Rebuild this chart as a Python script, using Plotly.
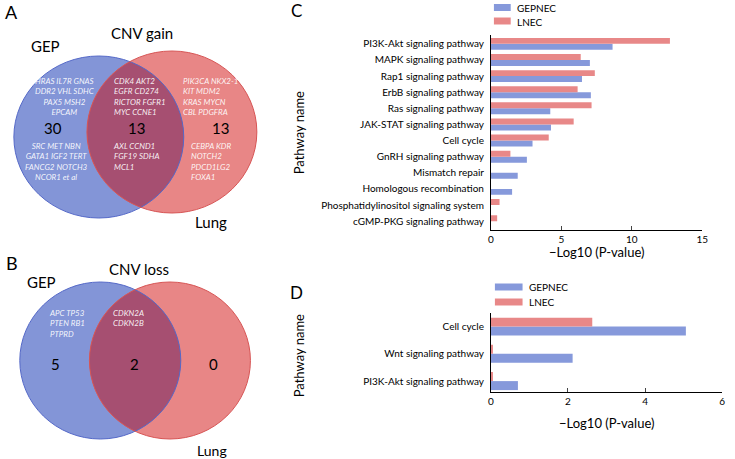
import numpy as np
import plotly.graph_objects as go

W, H = 735, 459
FONT = "Lato"

# ---------------- data ----------------
c_paths = ["PI3K-Akt signaling pathway", "MAPK signaling pathway", "Rap1 signaling pathway",
           "ErbB signaling pathway", "Ras signaling pathway", "JAK-STAT signaling pathway",
           "Cell cycle", "GnRH signaling pathway", "Mismatch repair",
           "Homologous recombination", "Phosphatidylinositol signaling system",
           "cGMP-PKG signaling pathway"]
c_gepnec = [8.63, 7.02, 6.46, 7.09, 4.21, 4.26, 2.95, 2.55, 1.90, 1.50, 0, 0]
c_lnec = [12.7, 6.37, 7.37, 6.15, 7.14, 5.87, 4.10, 1.38, 0, 0, 0.61, 0.44]

d_paths = ["Cell cycle", "Wnt signaling pathway", "PI3K-Akt signaling pathway"]
d_gepnec = [5.06, 2.12, 0.70]
d_lnec = [2.63, 0.03, 0.03]

c_ticks = [0, 5, 10, 15]
d_ticks = [0, 2, 4, 6]

gain_counts = [30, 13, 13]
loss_counts = [5, 2, 0]
gain_gep_top = ["HRAS IL7R GNAS", "DDR2 VHL SDHC", "PAX5 MSH2", "EPCAM"]
gain_gep_bot = ["SRC MET NBN", "GATA1 IGF2 TERT", "FANCG2 NOTCH3", "NCOR1 et al"]
gain_mid_top = ["CDK4 AKT2", "EGFR CD274", "RICTOR FGFR1", "MYC CCNE1"]
gain_mid_bot = ["AXL CCND1", "FGF19 SDHA", "MCL1"]
gain_lung_top = ["PIK3CA NKX2-1", "KIT MDM2", "KRAS MYCN", "CBL PDGFRA"]
gain_lung_bot = ["CEBPA KDR", "NOTCH2", "PDCD1LG2", "FOXA1"]
loss_gep = ["APC TP53", "PTEN RB1", "PTPRD"]
loss_mid = ["CDKN2A", "CDKN2B"]

BLUE = "rgb(131,149,215)"
RED = "rgb(232,134,134)"
LENS = "rgb(166,79,113)"
BAR_BLUE = "rgb(134,153,219)"
BAR_RED = "rgb(232,136,136)"


def px(x):
    return x / W


def py(y):
    return 1 - y / H


shapes = []
annotations = []


def ann(x, y, text, size, color="black", xanchor="center", italic=False, angle=0, align="center"):
    annotations.append(dict(
        x=px(x), y=py(y), xref="paper", yref="paper", text=text, showarrow=False,
        xanchor=xanchor, yanchor="middle", textangle=angle, align=align, borderpad=0,
        font=dict(family=FONT, size=size, color=color, style="italic" if italic else "normal")))


def ellipse_pts(cx, cy, rx, ry, t):
    return cx + rx * np.cos(t), cy + ry * np.sin(t)


def venn(bc, rc, rx, ry):
    (bx, by), (rxc, ryc) = bc, rc
    shapes.append(dict(type="circle", xref="paper", yref="paper", x0=px(bx - rx), x1=px(bx + rx),
                       y0=py(by + ry), y1=py(by - ry), fillcolor=BLUE, line=dict(width=0), layer="below"))
    shapes.append(dict(type="circle", xref="paper", yref="paper", x0=px(rxc - rx), x1=px(rxc + rx),
                       y0=py(ryc + ry), y1=py(ryc - ry), fillcolor=RED, line=dict(width=0), layer="below"))
    t = np.linspace(-np.pi, np.pi, 721)
    x1, y1 = ellipse_pts(bx, by, rx, ry, t)
    inside_r = ((x1 - rxc) / rx) ** 2 + ((y1 - ryc) / ry) ** 2 <= 1
    t2 = np.linspace(0, 2 * np.pi, 721)
    x2, y2 = ellipse_pts(rxc, ryc, rx, ry, t2)
    inside_b = ((x2 - bx) / rx) ** 2 + ((y2 - by) / ry) ** 2 <= 1
    xs = np.concatenate([x1[inside_r], x2[inside_b]])
    ys = np.concatenate([y1[inside_r], y2[inside_b]])
    path = "M" + " L".join(f"{px(a):.5f},{py(b):.5f}" for a, b in zip(xs, ys)) + " Z"
    shapes.append(dict(type="path", xref="paper", yref="paper", path=path, fillcolor=LENS,
                       line=dict(width=0), layer="below"))
    shapes.append(dict(type="circle", xref="paper", yref="paper", x0=px(bx - rx), x1=px(bx + rx),
                       y0=py(by + ry), y1=py(by - ry), line=dict(color="rgb(85,105,200)", width=1), layer="below"))
    shapes.append(dict(type="circle", xref="paper", yref="paper", x0=px(rxc - rx), x1=px(rxc + rx),
                       y0=py(ryc + ry), y1=py(ryc - ry), line=dict(color="rgb(215,85,85)", width=1), layer="below"))


GENE_SIZE = 8
LINE_H = GENE_SIZE * 1.3


def block(x, y_first, items, xanchor="left"):
    yc = y_first + (len(items) - 1) * LINE_H / 2
    ann(x, yc, "<br>".join(items), GENE_SIZE, color="rgba(255,255,255,0.92)", xanchor=xanchor,
        italic=True, align="center" if xanchor == "center" else "left")


# ---------------- Venn A ----------------
venn((97, 137), (171, 132), 86, 81)
ann(9, 12, "A", 18)
ann(141, 33, "CNV gain", 15)
ann(43, 46, "GEP", 15)
ann(211, 222, "Lung", 15)
for x, n in zip([51, 135, 220], gain_counts):
    ann(x, 128, str(n), 15)
block(63, 80.5, gain_gep_top, "center")
block(54, 146, gain_gep_bot, "center")
block(111, 80.5, gain_mid_top)
block(110, 146, gain_mid_bot)
block(181, 80.5, gain_lung_top)
block(189, 146, gain_lung_bot)

# ---------------- Venn B ----------------
venn((98.5, 360.5), (169, 360.5), 81.5, 78.5)
ann(9, 263, "B", 18)
ann(138, 269, "CNV loss", 15)
ann(39, 282, "GEP", 15)
ann(212, 450, "Lung", 14)
for x, n in zip([53, 133, 213], loss_counts):
    ann(x, 364, str(n), 15)
block(46, 313, loss_gep)
block(110, 313, loss_mid)

# ---------------- bar charts ----------------
fig = go.Figure()
wc = 0.37
wd = 0.33
fig.add_trace(go.Bar(y=c_paths, x=c_gepnec, orientation="h", marker=dict(color=BAR_BLUE, line=dict(width=0)),
                     width=wc, offset=-wc, name="GEPNEC", xaxis="x", yaxis="y", showlegend=False))
fig.add_trace(go.Bar(y=c_paths, x=c_lnec, orientation="h", marker=dict(color=BAR_RED, line=dict(width=0)),
                     width=wc, offset=0, name="LNEC", xaxis="x", yaxis="y", showlegend=False))
fig.add_trace(go.Bar(y=d_paths, x=d_gepnec, orientation="h", marker=dict(color=BAR_BLUE, line=dict(width=0)),
                     width=wd, offset=-wd, name="GEPNEC", xaxis="x2", yaxis="y2", showlegend=False))
fig.add_trace(go.Bar(y=d_paths, x=d_lnec, orientation="h", marker=dict(color=BAR_RED, line=dict(width=0)),
                     width=wd, offset=0, name="LNEC", xaxis="x2", yaxis="y2", showlegend=False))

axis_common = dict(showline=True, linecolor="black", linewidth=1, showgrid=False, zeroline=False,
                   tickfont=dict(family=FONT, size=10, color="black"))

# custom legends
for (x0, wsw, yb, yr) in [(497, 17, 7.5, 21), (498, 28, 287, 302)]:
    shapes.append(dict(type="rect", xref="paper", yref="paper", x0=px(x0), x1=px(x0 + wsw),
                       y0=py(yb + 3.5), y1=py(yb - 3.5), fillcolor=BAR_BLUE, line=dict(width=0)))
    shapes.append(dict(type="rect", xref="paper", yref="paper", x0=px(x0), x1=px(x0 + wsw),
                       y0=py(yr + 3.5), y1=py(yr - 3.5), fillcolor=BAR_RED, line=dict(width=0)))
ann(519, 8, "GEPNEC", 10, xanchor="left")
ann(519, 21.5, "LNEC", 10, xanchor="left")
ann(532, 287, "GEPNEC", 10, xanchor="left")
ann(532, 302, "LNEC", 10, xanchor="left")

ann(297, 11, "C", 17)
ann(297, 292, "D", 17)
ann(300, 133, "Pathway name", 13, angle=-90)
ann(300, 356, "Pathway name", 13, angle=-90)
ann(601, 252, "\u2212Log10 (P-value)", 13)
ann(611, 423, "\u2212Log10 (P-value)", 13)

fig.update_layout(
    width=W, height=H, margin=dict(l=0, r=0, t=0, b=0),
    paper_bgcolor="white", plot_bgcolor="rgba(0,0,0,0)",
    barmode="overlay", showlegend=False,
    font=dict(family=FONT, color="black"),
    xaxis=dict(domain=[px(494), px(708)], range=[0, 15], tickvals=c_ticks, ticks="inside", ticklen=4,
               anchor="y", **axis_common),
    yaxis=dict(domain=[py(230), py(35)], type="category", categoryorder="array",
               categoryarray=list(reversed(c_paths)), range=[-0.55, 11.55], ticks="", ticklabelstandoff=4,
               anchor="x", **axis_common),
    xaxis2=dict(domain=[px(494), px(728)], range=[0, 6], tickvals=d_ticks, ticks="inside", ticklen=4,
                anchor="y2", **axis_common),
    yaxis2=dict(domain=[py(392), py(313)], type="category", categoryorder="array",
                categoryarray=list(reversed(d_paths)), range=[-0.4, 2.5], ticks="", ticklabelstandoff=4,
                anchor="x2", **axis_common),
    shapes=shapes, annotations=annotations,
)

fig.write_html("out.html", config={"displayModeBar": False},
               post_script="document.body.style.margin='0';document.body.style.overflow='hidden';")
